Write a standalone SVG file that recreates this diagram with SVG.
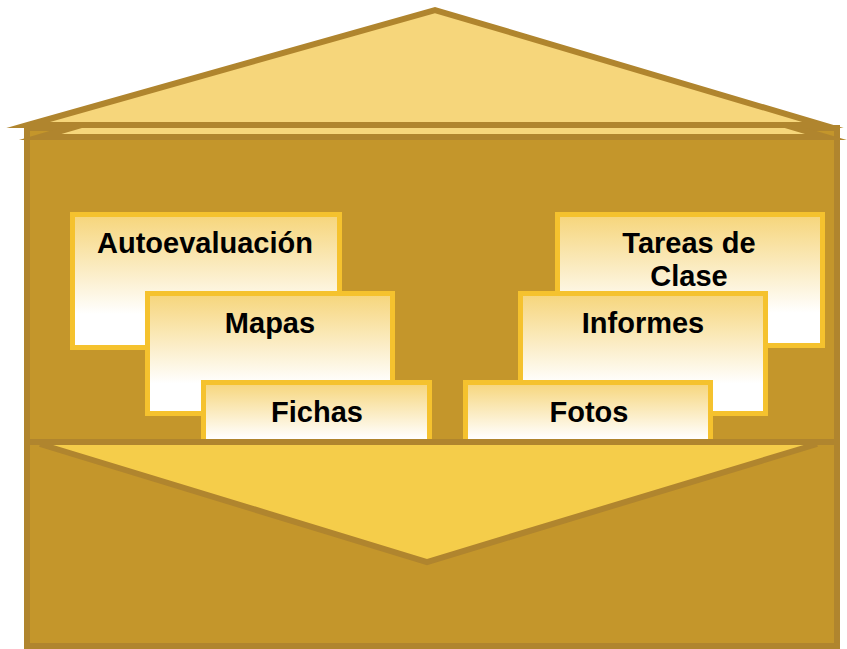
<svg xmlns="http://www.w3.org/2000/svg" width="847" height="649" viewBox="0 0 847 649">
<defs>
<linearGradient id="cardGrad" x1="0" y1="0" x2="0" y2="1">
<stop offset="0" stop-color="#F6D57A"/>
<stop offset="0.75" stop-color="#FFFFFF"/>
<stop offset="1" stop-color="#FFFFFF"/>
</linearGradient>
<linearGradient id="cardGradShort" x1="0" y1="0" x2="0" y2="1">
<stop offset="0" stop-color="#F6D57A"/>
<stop offset="0.8" stop-color="#FFFFFF"/>
<stop offset="1" stop-color="#FFFFFF"/>
</linearGradient>
<style>
.box{fill:#C4962B;stroke:#B0852E;stroke-width:6}
.roof{fill:#F6D67B;stroke:#B0852E;stroke-width:6;stroke-miterlimit:10;stroke-linejoin:miter}
.card{fill:url(#cardGrad);stroke:#F5C22E;stroke-width:5}
.cardS{fill:url(#cardGradShort);stroke:#F5C22E;stroke-width:5}
.lbl{font-family:"Liberation Sans",Arial,sans-serif;font-weight:bold;font-size:29px;fill:#000;text-anchor:middle}
.flap{fill:#F5CD4A;stroke:none}
.flapline{fill:none;stroke:#B0852E;stroke-width:6;stroke-linejoin:miter}
</style>
</defs>
<g id="back-panel">
<rect class="box" x="27" y="128" width="810" height="477"/>
</g>
<g id="roof-back">
<polygon class="roof" points="40,137 435,22 826,137"/>
</g>
<g id="roof-front">
<polygon class="roof" points="28,125 435,10 823,125"/>
</g>
<g id="card-autoevaluacion">
<rect class="card" x="72.5" y="214.5" width="267" height="133"/>
<text class="lbl" x="205" y="253">Autoevaluación</text>
</g>
<g id="card-tareas">
<rect class="card" x="557.5" y="214.5" width="265" height="131"/>
<text class="lbl" x="689" y="253">Tareas de</text>
<text class="lbl" x="689" y="286">Clase</text>
</g>
<g id="card-mapas">
<rect class="card" x="147.5" y="293.5" width="245" height="120"/>
<text class="lbl" x="270" y="333">Mapas</text>
</g>
<g id="card-informes">
<rect class="card" x="520.5" y="293.5" width="245" height="120"/>
<text class="lbl" x="643" y="333">Informes</text>
</g>
<g id="card-fichas">
<rect class="cardS" x="203.5" y="382.5" width="226" height="70"/>
<text class="lbl" x="317" y="422">Fichas</text>
</g>
<g id="card-fotos">
<rect class="cardS" x="465.5" y="382.5" width="245" height="70"/>
<text class="lbl" x="589" y="422">Fotos</text>
</g>
<g id="pocket">
<rect class="box" x="27" y="442" width="810" height="204"/>
<polygon class="flap" points="40,445 427,563 817,445"/>
<polyline class="flapline" points="40,444 427,562 817,444"/>
<line x1="24" y1="442" x2="840" y2="442" stroke="#B0852E" stroke-width="6"/>
</g>
<g id="connectors"></g>
</svg>
